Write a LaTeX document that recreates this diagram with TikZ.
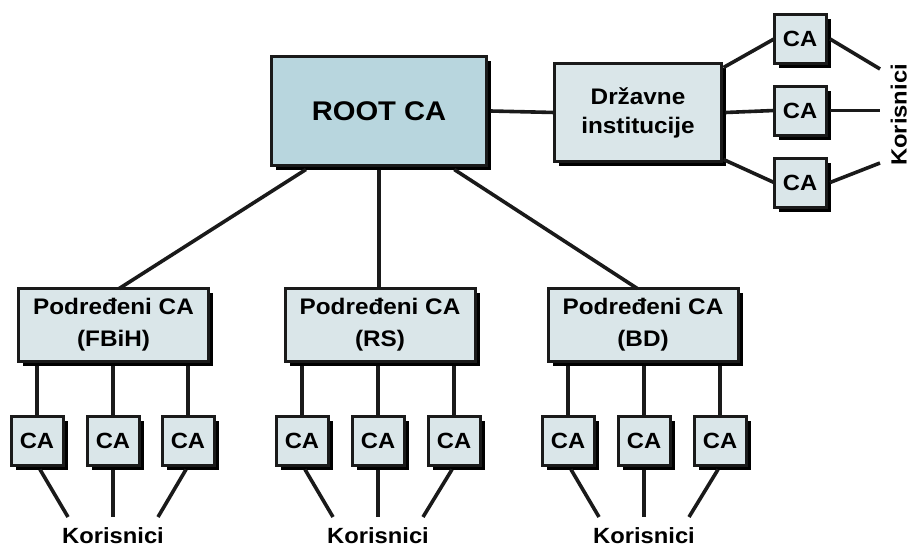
\documentclass[tikz,border=0pt]{standalone}
\usepackage{fontspec}
\setmainfont{Liberation Sans}[FakeStretch=1.08]
\usetikzlibrary{shadows,calc}
\definecolor{rootfill}{HTML}{B8D6DE}
\definecolor{boxfill}{HTML}{DAE6E9}
\definecolor{ink}{HTML}{1A1A1A}
\tikzset{
  box/.style={draw=ink, line width=3pt, fill=boxfill, rectangle, inner sep=0pt, outer sep=0pt,
    align=center, font=\bfseries,
    drop shadow={shadow xshift=4.5pt, shadow yshift=-4.5pt, fill=black, opacity=1}},
  rootbox/.style={box, fill=rootfill, minimum width=215pt, minimum height=109pt, font=\fontsize{27}{30}\selectfont\bfseries},
  stateb/.style={box, minimum width=167pt, minimum height=98pt, font=\fontsize{22.5}{29}\selectfont\bfseries},
  subbox/.style={box, minimum width=190pt, minimum height=73pt, font=\fontsize{22.5}{32}\selectfont\bfseries},
  cabox/.style={box, minimum width=52pt, minimum height=49pt, font=\fontsize{22}{24}\selectfont\bfseries},
  users/.style={font=\fontsize{22}{24}\selectfont\bfseries, inner sep=0pt},
  link/.style={draw=ink, line width=3.6pt}
}
\begin{document}
\begin{tikzpicture}[x=1pt,y=-1pt]
\useasboundingbox (0,0) rectangle (910,546);

% main boxes
\node[rootbox] (root) at (379,111) {ROOT CA};
\node[stateb] (drz) at (638,112.5) {Državne\\institucije};
\node[subbox] (fbih) at (113.5,325) {Podređeni CA\\(FBiH)};
\node[subbox] (rs) at (380,325) {Podređeni CA\\(RS)};
\node[subbox] (bd) at (643,325) {Podređeni CA\\(BD)};

% right CAs
\node[cabox] (ta) at (800,39) {CA};
\node[cabox] (tb) at (800,110.5) {CA};
\node[cabox] (tc) at (800,182.5) {CA};

% bottom CAs
\foreach \n/\x in {f1/37,f2/113,f3/188,r1/302,r2/378,r3/454,b1/568,b2/644,b3/720}{
  \node[cabox] (\n) at (\x,441) {CA};
}

% Korisnici labels
\node[users, anchor=base] (kf) at (113,543) {Korisnici};
\node[users, anchor=base] (kr) at (378,543) {Korisnici};
\node[users, anchor=base] (kb) at (644,543) {Korisnici};
\node[users, rotate=90, anchor=base] (kt) at (906.5,115) {Korisnici};

% free ends
\coordinate (kf1) at (68,517);  \coordinate (kf2) at (113,517); \coordinate (kf3) at (158,517);
\coordinate (kr1) at (333,517); \coordinate (kr2) at (378,517); \coordinate (kr3) at (423,517);
\coordinate (kb1) at (599,517); \coordinate (kb2) at (644,517); \coordinate (kb3) at (689,517);
\coordinate (kt1) at (880,69);  \coordinate (kt2) at (880,110.5); \coordinate (kt3) at (880,163);

% root links
\draw[link] ($(root.south west)!0.16!(root.south east)+(0,4)$) -- ($(fbih.north west)!0.53!(fbih.north east)$);
\draw[link] ($(root.south)+(0,4)$) -- (root.south |- rs.north);
\draw[link] ($(root.south west)!0.85!(root.south east)+(0,4)$) -- ($(bd.north west)!0.47!(bd.north east)$);
\draw[link] ($(root.east)+(4,0)$) -- (drz.west);

% state links
\draw[link] ($(drz.north east)+(2,4)$) -- (ta.west);
\draw[link] ($(drz.east)+(4,0)$) -- (tb.west);
\draw[link] ($(drz.south east)+(2,-2)$) -- (tc.west);
\draw[link] ($(ta.east)+(4,0)$) -- (kt1);
\draw[link] ($(tb.east)+(4,0)$) -- (kt2);
\draw[link] ($(tc.east)+(4,0)$) -- (kt3);

% sub to CA
\foreach \p/\a/\b/\c in {fbih/f1/f2/f3, rs/r1/r2/r3, bd/b1/b2/b3}{
  \draw[link] ($(\a.north |- \p.south)+(0,4)$) -- (\a.north);
  \draw[link] ($(\b.north |- \p.south)+(0,4)$) -- (\b.north);
  \draw[link] ($(\c.north |- \p.south)+(0,4)$) -- (\c.north);
}
% CA to users
\draw[link] ($(f1.south)+(3,4)$) -- (kf1);
\draw[link] ($(f2.south)+(0,4)$) -- (kf2);
\draw[link] ($(f3.south)+(-2,4)$) -- (kf3);
\draw[link] ($(r1.south)+(3,4)$) -- (kr1);
\draw[link] ($(r2.south)+(0,4)$) -- (kr2);
\draw[link] ($(r3.south)+(-2,4)$) -- (kr3);
\draw[link] ($(b1.south)+(3,4)$) -- (kb1);
\draw[link] ($(b2.south)+(0,4)$) -- (kb2);
\draw[link] ($(b3.south)+(-2,4)$) -- (kb3);
\end{tikzpicture}
\end{document}
